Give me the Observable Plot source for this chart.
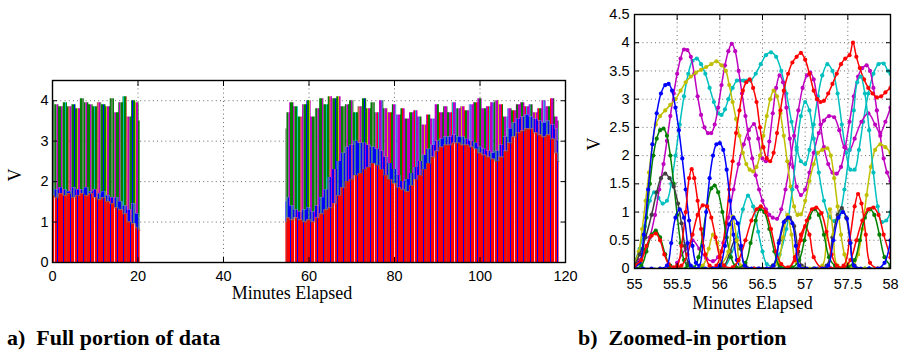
<!DOCTYPE html>
<html><head><meta charset="utf-8">
<script src="https://cdn.jsdelivr.net/npm/d3@7"></script>
<script src="https://cdn.jsdelivr.net/npm/@observablehq/plot@0.6"></script>
<style>
body{margin:0;background:#fff;}
#wrap{position:relative;width:903px;height:354px;overflow:hidden;background:#fff;}
#pa{position:absolute;left:0;top:0;}
#pb{position:absolute;left:580px;top:0;}
.cap{position:absolute;font-family:"Liberation Serif","Times New Roman",serif;font-weight:bold;font-size:22px;top:325px;white-space:nowrap;color:#000;}
</style></head>
<body><div id="wrap"><div id="pa"></div><div id="pb"></div>
<div class="cap" style="left:7px">a)&nbsp; Full portion of data</div>
<div class="cap" style="left:578px">b)&nbsp; Zoomed-in portion</div></div>
<script>
// ---------- Panel a data (envelopes) ----------
const leftMinutes = [0,1,2,3,4,5,6,7,8,9,10,11,12,13,14,15,16,17,18,19,20,20.5];
const leftTop  = [4.0,3.9,3.85,3.95,3.85,3.9,3.8,4.05,3.95,3.9,3.85,3.95,3.9,3.85,4.05,3.7,3.95,4.1,3.6,4.0,3.95,3.5];
const leftBlue = [1.85,1.8,1.85,1.8,1.75,1.85,1.8,1.8,1.85,1.75,1.8,1.7,1.75,1.65,1.6,1.6,1.5,1.4,1.3,1.45,1.2,1.1];
const leftRed  = [1.65,1.6,1.7,1.65,1.7,1.6,1.65,1.7,1.65,1.7,1.6,1.55,1.6,1.5,1.45,1.35,1.3,1.2,1.0,0.95,0.85,0.8];

const rightMinutes = [54.6,55,56,57,58,59,60,61,62,63,64,65,66,67,68,69,70,71,72,73,74,75,76,77,78,79,80,81,82,83,84,85,86,87,88,89,90,91,92,93,94,95,96,97,98,99,100,101,102,103,104,105,106,107,108,109,110,111,112,113,114,115,116,117,118,118.5];
const rightTop = [3.3,3.7,3.95,3.85,3.6,3.9,4.0,3.6,3.8,4.05,3.9,4.1,4.05,4.1,3.85,3.9,4.0,3.7,3.85,4.05,3.8,3.95,3.7,4.0,3.8,3.7,3.9,3.65,3.8,3.55,3.7,3.75,3.6,3.4,3.65,3.55,3.9,3.7,3.85,3.7,3.95,3.8,3.85,3.75,3.9,3.95,4.05,3.8,3.85,3.95,4.0,3.9,3.6,3.8,3.75,3.9,3.95,3.85,3.9,3.7,3.8,4.0,3.85,4.05,3.6,3.5];
const rightBlue = [1.5,1.6,1.4,1.3,1.25,1.3,1.35,1.25,1.4,1.6,1.8,2.1,2.3,2.5,2.7,2.85,2.9,3.0,2.95,2.95,2.9,2.85,2.8,2.75,2.6,2.45,2.3,2.15,2.0,2.05,2.2,2.35,2.5,2.65,2.8,2.9,3.0,3.05,3.1,3.1,3.15,3.1,3.1,3.05,3.0,2.95,2.85,2.8,2.75,2.7,2.75,2.9,3.1,3.3,3.45,3.55,3.6,3.65,3.6,3.55,3.5,3.45,3.5,3.4,3.3,3.0];
const rightRed = [1.0,1.1,1.05,1.1,1.05,1.0,1.05,1.0,1.1,1.2,1.3,1.35,1.45,1.65,1.85,2.0,2.05,2.15,2.2,2.3,2.35,2.45,2.4,2.3,2.15,2.05,1.95,1.85,1.8,1.75,1.9,2.05,2.15,2.3,2.45,2.6,2.75,2.85,2.9,2.9,2.95,2.95,2.9,2.9,2.85,2.8,2.7,2.65,2.6,2.55,2.5,2.6,2.75,2.95,3.1,3.2,3.25,3.3,3.3,3.2,3.15,3.1,3.15,3.05,2.7,2.5];

const fullTicksX = [0,20,40,60,80,100,120];
const fullTicksY = [0,1,2,3,4];

// ---------- Panel b data ----------
const bBlueTall = [[55.0,0.02],[55.06,0.1],[55.11,0.6],[55.16,1.4],[55.21,2.2],[55.26,2.75],[55.31,3.1],[55.36,3.25],[55.4,3.27],[55.44,3.15],[55.48,2.85],[55.52,2.45],[55.56,1.95],[55.6,1.4],[55.64,0.85],[55.68,0.4],[55.72,0.1],[55.76,0.05],[55.8,0.4],[55.84,1.0],[55.88,1.6],[55.92,2.0],[55.96,2.2],[56.0,2.22],[56.04,2.1],[56.08,1.75],[56.12,1.2],[56.16,0.6],[56.2,0.15],[56.25,0.02],[56.4,0],[56.55,0],[56.7,0],[56.85,0],[57.0,0],[57.15,0],[57.3,0],[57.45,0],[57.6,0],[57.75,0],[57.9,0],[58.0,0]];
const bBlueSmall = [[55.0,0],[55.1,0],[55.2,0],[55.3,0],[55.38,0.05],[55.43,0.45],[55.48,0.9],[55.53,1.05],[55.58,0.9],[55.62,0.45],[55.66,0.05],[55.75,0],[55.83,0],[55.92,0],[56.0,0.05],[56.06,0.4],[56.11,0.78],[56.16,0.9],[56.21,0.8],[56.25,0.4],[56.29,0.05],[56.37,0],[56.46,0],[56.55,0],[56.63,0.05],[56.69,0.45],[56.75,0.82],[56.8,0.9],[56.85,0.8],[56.89,0.4],[56.93,0.05],[57.02,0],[57.12,0],[57.2,0],[57.27,0.05],[57.33,0.5],[57.39,0.9],[57.44,1.0],[57.49,0.88],[57.53,0.45],[57.57,0.05],[57.65,0],[57.75,0],[57.85,0],[57.93,0.1],[58.0,0.5]];
const bGray = [[55.0,0.05],[55.06,0.25],[55.13,0.55],[55.2,0.95],[55.26,1.35],[55.31,1.6],[55.36,1.68],[55.41,1.6],[55.46,1.45],[55.51,1.15],[55.55,0.8],[55.59,0.4],[55.63,0.1],[55.7,0],[55.8,0],[55.9,0],[56.05,0.05],[56.12,0.3],[56.18,0.5],[56.24,0.35],[56.3,0.05],[56.45,0],[56.62,0.05],[56.7,0.5],[56.77,0.85],[56.82,0.9],[56.87,0.75],[56.92,0.3],[56.96,0.05],[57.1,0],[57.25,0.05],[57.32,0.55],[57.38,0.95],[57.43,1.07],[57.48,0.9],[57.53,0.45],[57.58,0.05],[57.75,0],[58.0,0]];
const bGreenTall = [[55.0,0.02],[55.06,0.1],[55.1,0.35],[55.14,0.9],[55.18,1.5],[55.22,2.0],[55.26,2.3],[55.3,2.45],[55.34,2.48],[55.38,2.35],[55.42,2.0],[55.46,1.5],[55.5,0.95],[55.54,0.45],[55.58,0.15],[55.62,0.05],[55.7,0.02],[55.75,0.2],[55.8,0.6],[55.85,1.1],[55.9,1.42],[55.94,1.47],[55.98,1.35],[56.03,1.0],[56.08,0.55],[56.13,0.2],[56.18,0.05],[56.3,0],[56.5,0],[56.7,0],[56.9,0],[57.1,0],[57.3,0],[57.5,0],[57.7,0],[57.9,0],[58.0,0]];
const bGreenSmall = [[55.0,0],[55.08,0.05],[55.14,0.3],[55.2,0.6],[55.25,0.67],[55.3,0.55],[55.36,0.25],[55.42,0.05],[55.6,0],[55.8,0],[56.0,0],[56.2,0],[56.3,0.1],[56.36,0.45],[56.42,0.85],[56.47,1.05],[56.52,1.0],[56.58,0.7],[56.64,0.3],[56.7,0.05],[56.85,0.02],[56.93,0.15],[56.99,0.5],[57.05,0.9],[57.11,1.05],[57.16,0.95],[57.22,0.6],[57.28,0.2],[57.35,0.05],[57.5,0.02],[57.58,0.15],[57.64,0.5],[57.7,0.9],[57.76,1.05],[57.81,0.95],[57.87,0.6],[57.93,0.2],[58.0,0.05]];
const bRedLow = [[55.0,0.05],[55.08,0.15],[55.14,0.4],[55.2,0.58],[55.25,0.62],[55.3,0.5],[55.35,0.25],[55.4,0.08],[55.46,0.02],[55.55,0.05],[55.62,0.25],[55.68,0.6],[55.74,0.95],[55.8,1.12],[55.85,1.1],[55.9,0.9],[55.95,0.55],[56.0,0.2],[56.05,0.05],[56.15,0.02],[56.22,0.15],[56.3,0.5],[56.37,0.85],[56.43,1.05],[56.48,1.1],[56.54,1.0],[56.6,0.7],[56.66,0.3],[56.72,0.08],[56.8,0.02],[56.88,0.15],[56.95,0.5],[57.02,0.85],[57.08,1.05],[57.13,1.08],[57.19,0.98],[57.25,0.65],[57.31,0.25],[57.37,0.05],[57.45,0.02],[57.53,0.15],[57.6,0.5],[57.67,0.85],[57.74,1.05],[57.8,1.08],[57.86,0.95],[57.92,0.6],[58.0,0.2]];
const bRedMid = [[55.4,0],[55.5,0.05],[55.55,0.4],[55.6,1.0],[55.64,1.6],[55.67,1.76],[55.7,1.6],[55.74,1.2],[55.78,0.7],[55.83,0.25],[55.88,0.05],[56.0,0],[56.2,0],[56.4,0],[56.6,0],[56.8,0],[56.88,0.2],[56.95,0.6],[57.0,0.75],[57.05,0.6],[57.1,0.2],[57.2,0],[57.3,0],[57.45,0.05],[57.52,0.5],[57.58,1.1],[57.62,1.32],[57.66,1.15],[57.71,0.6],[57.76,0.1],[57.85,0],[58.0,0]];
const bRedHigh = [[55.9,0],[55.96,0.05],[56.02,0.3],[56.07,0.8],[56.11,1.4],[56.15,1.9],[56.19,2.4],[56.23,2.8],[56.27,3.15],[56.31,3.3],[56.35,3.35],[56.39,3.2],[56.43,2.95],[56.47,2.5],[56.51,2.15],[56.55,1.95],[56.59,1.9],[56.63,2.05],[56.67,2.4],[56.71,2.8],[56.75,3.15],[56.8,3.45],[56.85,3.65],[56.9,3.75],[56.95,3.82],[57.0,3.7],[57.05,3.45],[57.1,3.15],[57.14,3.0],[57.18,2.95],[57.22,2.97],[57.27,3.1],[57.32,3.27],[57.37,3.45],[57.42,3.62],[57.47,3.72],[57.52,3.78],[57.56,4.0],[57.6,3.75],[57.64,3.55],[57.69,3.35],[57.74,3.2],[57.79,3.1],[57.84,3.03],[57.89,3.05],[57.94,3.12],[58.0,3.2]];
const bYellowHigh = [[55.0,0.1],[55.05,0.3],[55.09,0.7],[55.13,1.2],[55.17,1.7],[55.21,2.2],[55.25,2.55],[55.3,2.7],[55.36,2.8],[55.42,2.9],[55.48,3.0],[55.54,3.15],[55.6,3.3],[55.66,3.4],[55.72,3.47],[55.78,3.52],[55.84,3.57],[55.9,3.62],[55.96,3.67],[56.02,3.6],[56.07,3.5],[56.11,3.25],[56.15,2.95],[56.19,2.65],[56.23,2.35],[56.27,2.05],[56.31,1.85],[56.35,1.75],[56.39,1.72],[56.43,1.8],[56.47,2.0],[56.51,2.35],[56.55,2.7],[56.59,3.0],[56.63,3.15],[56.67,3.05],[56.71,2.75],[56.75,2.35],[56.79,1.9],[56.83,1.45],[56.87,1.1],[56.91,0.95],[56.95,0.96],[57.0,1.2],[57.05,1.55],[57.1,1.85],[57.15,2.05],[57.2,2.1],[57.26,2.13],[57.3,2.0],[57.34,1.6],[57.38,1.1],[57.42,0.6],[57.46,0.25],[57.5,0.08],[57.56,0.05],[57.62,0.25],[57.67,0.7],[57.72,1.3],[57.77,1.8],[57.82,2.1],[57.88,2.2],[57.94,2.15],[58.0,2.05]];
const bYellowLow = [[55.0,0],[55.3,0],[55.5,0],[55.7,0],[55.8,0.05],[55.87,0.35],[55.92,0.6],[55.97,0.45],[56.02,0.1],[56.1,0.3],[56.15,0.92],[56.2,0.5],[56.25,0.05],[56.4,0],[56.6,0],[56.68,0.1],[56.74,0.55],[56.79,0.95],[56.84,0.6],[56.9,0.1],[57.05,0],[57.2,0.05],[57.25,0.6],[57.29,1.05],[57.33,0.6],[57.38,0.05],[57.55,0],[57.7,0],[57.85,0],[58.0,0]];
const bMagentaA = [[55.0,0.08],[55.06,0.15],[55.12,0.3],[55.18,0.55],[55.24,0.95],[55.29,1.4],[55.34,1.85],[55.38,2.26],[55.42,2.7],[55.46,3.1],[55.5,3.45],[55.54,3.72],[55.58,3.88],[55.62,3.87],[55.66,3.75],[55.7,3.45],[55.74,3.05],[55.78,2.72],[55.82,2.5],[55.86,2.4],[55.9,2.4],[55.94,2.55],[55.98,2.85],[56.02,3.25],[56.06,3.6],[56.1,3.85],[56.14,3.98],[56.18,3.85],[56.22,3.5],[56.26,3.1],[56.3,2.7],[56.34,2.3],[56.38,1.95],[56.42,1.65],[56.46,1.4],[56.5,1.2],[56.54,1.05],[56.58,0.95],[56.62,0.9],[56.67,0.88],[56.72,1.05],[56.77,1.4],[56.82,1.85],[56.87,2.35],[56.92,2.8],[56.97,3.2],[57.02,3.42],[57.06,3.47],[57.1,3.35],[57.14,3.0],[57.18,2.55],[57.22,2.15],[57.27,1.85],[57.32,1.7],[57.37,1.68],[57.42,1.8],[57.47,2.15],[57.52,2.6],[57.57,3.05],[57.62,3.4],[57.67,3.55],[57.72,3.6],[57.76,3.5],[57.8,3.2],[57.84,2.8],[57.88,2.35],[57.92,1.95],[57.96,1.7],[58.0,1.55]];
const bMagentaB = [[55.5,0.1],[55.6,0.35],[55.68,0.5],[55.76,0.35],[55.84,0.18],[55.92,0.13],[55.98,0.2],[56.04,0.45],[56.1,0.9],[56.16,1.4],[56.22,1.85],[56.28,2.2],[56.34,2.45],[56.4,2.56],[56.45,2.3],[56.5,1.95],[56.54,1.9],[56.58,2.25],[56.62,2.75],[56.66,3.2],[56.7,3.42],[56.74,3.3],[56.78,2.85],[56.82,2.3],[56.86,1.8],[56.9,1.45],[56.95,1.3],[57.0,1.4],[57.05,1.7],[57.1,2.05],[57.16,2.4],[57.22,2.62],[57.28,2.7],[57.34,2.68],[57.4,2.45],[57.46,2.15],[57.52,2.1],[57.58,2.3],[57.66,2.6],[57.74,2.75],[57.82,2.55],[57.88,2.4],[57.94,2.6],[58.0,2.85]];
const bCyanA = [[55.0,0.12],[55.06,0.35],[55.12,0.75],[55.18,1.2],[55.23,1.35],[55.28,1.25],[55.33,1.15],[55.38,1.2],[55.43,1.5],[55.48,2.0],[55.53,2.55],[55.58,3.05],[55.63,3.45],[55.68,3.68],[55.73,3.72],[55.78,3.62],[55.83,3.45],[55.88,3.2],[55.93,2.95],[55.98,2.75],[56.02,2.72],[56.06,2.82],[56.1,3.0],[56.15,3.2],[56.2,3.33],[56.24,3.33],[56.28,3.33],[56.32,3.33],[56.36,3.33],[56.42,3.45],[56.48,3.62],[56.54,3.78],[56.6,3.83],[56.66,3.75],[56.72,3.5],[56.78,3.1],[56.84,2.6],[56.9,2.15],[56.95,1.9],[57.0,1.85],[57.05,2.1],[57.1,2.55],[57.15,3.05],[57.2,3.42],[57.26,3.62],[57.32,3.5],[57.38,3.1],[57.43,2.55],[57.48,2.05],[57.53,1.75],[57.58,1.75],[57.63,2.1],[57.68,2.6],[57.74,3.1],[57.8,3.45],[57.86,3.62],[57.92,3.63],[57.97,3.5],[58.0,3.45]];
const bCyanB = [[55.9,0],[56.05,0.02],[56.12,0.2],[56.2,0.55],[56.27,1.05],[56.33,1.29],[56.39,1.1],[56.45,0.65],[56.5,0.3],[56.55,0.08],[56.62,0.05],[56.7,0.25],[56.78,0.7],[56.85,1.4],[56.9,2.1],[56.95,2.7],[57.0,2.95],[57.05,2.8],[57.1,2.3],[57.16,1.7],[57.22,1.2],[57.28,0.92],[57.34,0.84],[57.4,0.95],[57.46,1.4],[57.52,2.1],[57.57,2.8],[57.61,3.3],[57.65,3.4],[57.7,3.1],[57.75,2.45],[57.8,1.7],[57.85,1.1],[57.9,0.82],[57.95,0.85],[58.0,1.0]];

const zoomTicksX = [55,55.5,56,56.5,57,57.5,58];
const zoomTicksY = [0,0.5,1,1.5,2,2.5,3,3.5,4,4.5];

// ---------- styling ----------
const C = {b:"#0000ff", g:"#008000", r:"#ff0000", c:"#00bfbf", m:"#bf00bf", y:"#bfbf00", k:"#404040"};
const tickFont = "'Liberation Sans', Arial, Helvetica, sans-serif";
const labelFont = "'Liberation Serif', 'Times New Roman', serif";
const fmt = d3.format("~g");

function gridMarks(ticksX, ticksY) {
  return [
    Plot.gridX(ticksX, {stroke:"#000", strokeOpacity:0.75, strokeDasharray:"1,3.2", strokeWidth:0.8}),
    Plot.gridY(ticksY, {stroke:"#000", strokeOpacity:0.75, strokeDasharray:"1,3.2", strokeWidth:0.8})
  ];
}
function axisMarks(ticksX, ticksY, padX, padY) {
  return [
    Plot.axisX(ticksX, {anchor:"bottom", tickSize:-5, tickPadding:padX+5, tickFormat:fmt, label:null, fontSize:14.5}),
    Plot.axisX(ticksX, {anchor:"top", tickSize:-5, tickFormat:()=>"", label:null}),
    Plot.axisY(ticksY, {anchor:"left", tickSize:-5, tickPadding:padY+5, tickFormat:fmt, label:null, fontSize:14.5}),
    Plot.axisY(ticksY, {anchor:"right", tickSize:-5, tickFormat:()=>"", label:null}),
    Plot.frame({stroke:"#000", strokeWidth:1.4})
  ];
}

// ---------- Panel a ----------
const leftData = leftMinutes.map((t,i)=>({t, top:leftTop[i], blue:leftBlue[i], red:leftRed[i]}));
const rightData = rightMinutes.map((t,i)=>({t, top:rightTop[i], blue:rightBlue[i], red:rightRed[i]}));
const rightEarly = rightData.filter(d => d.t <= 76);
const rightLate = rightData.filter(d => d.t >= 76);
const S_UPG = "#fe0101", S_UPM = "#fe0404", S_BL = "#fe0202", S_RD = "#fe0303";
const bandMarks = [];
for (const [d, up] of [[leftData, S_UPG], [rightEarly, S_UPG], [rightLate, S_UPM]]) {
  bandMarks.push(Plot.areaY(d, {x:"t", y1:"blue", y2:"top", curve:"step", fill:up}));
  bandMarks.push(Plot.areaY(d, {x:"t", y1:"red", y2:"blue", curve:"step", fill:S_BL}));
  bandMarks.push(Plot.areaY(d, {x:"t", y1:0, y2:"red", curve:"step", fill:S_RD}));
}
for (const d of [leftData, rightData]) {
  bandMarks.push(Plot.line(d, {x:"t", y:"red", curve:"step", stroke:"#6a6a40", strokeWidth:1.2, strokeOpacity:0.5}));
}
const plotA = Plot.plot({
  width:580, height:320, marginLeft:52, marginRight:15, marginTop:80, marginBottom:58,
  style:{fontFamily:tickFont, fontSize:"14.5px", color:"#000", background:"transparent"},
  x:{domain:[0,120]}, y:{domain:[0,4.5]},
  marks:[
    ...gridMarks(fullTicksX, fullTicksY),
    ...bandMarks,
    ...axisMarks(fullTicksX, fullTicksY, 8, 4),
    Plot.text(["Minutes Elapsed"], {text:d=>d, frameAnchor:"bottom", dx:-17, dy:36, fontFamily:labelFont, fontSize:18}),
    Plot.text(["V"], {text:d=>d, frameAnchor:"left", rotate:-90, dx:-37, dy:10, fontFamily:labelFont, fontSize:18})
  ]
});
document.getElementById("pa").appendChild(plotA);

// stripe patterns (style only)
function addPattern(svg, id, w, stripes) {
  const ns = "http://www.w3.org/2000/svg";
  let defs = svg.querySelector("defs");
  if (!defs) { defs = document.createElementNS(ns, "defs"); svg.insertBefore(defs, svg.firstChild); }
  const p = document.createElementNS(ns, "pattern");
  p.setAttribute("id", id); p.setAttribute("patternUnits", "userSpaceOnUse");
  p.setAttribute("width", w); p.setAttribute("height", 400);
  for (const [x, sw, col] of stripes) {
    const r = document.createElementNS(ns, "rect");
    r.setAttribute("x", x); r.setAttribute("y", 0); r.setAttribute("width", sw); r.setAttribute("height", 400);
    r.setAttribute("fill", col); p.appendChild(r);
  }
  defs.appendChild(p);
}
addPattern(plotA, "stUpG", 29, [[0,3,C.g],[3,1.5,C.m],[4.5,2.5,C.g],[7,1,C.c],[8,2.5,C.g],[10.5,1,C.r],[11.5,2,C.m],[13.5,2.5,C.g],[16,1,C.b],[17,2,C.g],[19,1,C.y],[20,2,C.m],[22,2.5,C.g],[24.5,1,C.k],[25.5,2,C.g],[27.5,1.5,C.m]]);
addPattern(plotA, "stUpM", 37, [[0,3,C.m],[3,2,C.g],[5,2,C.m],[7,1,C.r],[8,1,C.c],[9,2.5,C.m],[11.5,1,C.b],[12.5,2,C.g],[14.5,2.5,C.m],[17,1,C.y],[18,2,C.m],[20,1,C.r],[21,2,C.g],[23,2.5,C.m],[25.5,1,C.c],[26.5,1,C.b],[27.5,2.5,C.m],[30,2,C.g],[32,1,C.r],[33,2,C.m],[35,1,C.k],[36,1,C.g]]);
addPattern(plotA, "stBl", 17, [[0,2.5,C.b],[2.5,1,C.g],[3.5,2,C.b],[5.5,1,C.k],[6.5,1.5,C.b],[8,1,C.m],[9,2.5,C.b],[11.5,1,C.r],[12.5,2,C.b],[14.5,1,C.g],[15.5,1.5,C.b]]);
addPattern(plotA, "stRd", 20, [[0,3,C.r],[3,1,C.b],[4,2,C.r],[6,1,"#c02a2a"],[7,3,C.r],[10,1,C.b],[11,3,C.r],[14,0.8,"#ffffff"],[14.8,2.2,C.r],[17,1,C.b],[18,2,C.r]]);
const mapFill = {[S_UPG]:"url(#stUpG)", [S_UPM]:"url(#stUpM)", [S_BL]:"url(#stBl)", [S_RD]:"url(#stRd)"};
plotA.querySelectorAll("[fill]").forEach(el => {
  const f = (el.getAttribute("fill")||"").toLowerCase();
  if (mapFill[f]) el.setAttribute("fill", mapFill[f]);
});

// ---------- Panel b ----------
const zoomSeries = [
  ["c", bCyanA], ["m", bMagentaA], ["m", bMagentaB], ["y", bYellowHigh], ["r", bRedHigh],
  ["c", bCyanB], ["g", bGreenTall], ["k", bGray], ["b", bBlueTall], ["y", bYellowLow],
  ["r", bRedMid], ["g", bGreenSmall], ["r", bRedLow], ["b", bBlueSmall]
];
const lineMarks = [];
for (const [c, pts] of zoomSeries) {
  lineMarks.push(Plot.line(pts, {x:d=>d[0], y:d=>d[1], stroke:C[c], strokeWidth:1.5, curve:"catmull-rom", clip:true}));
  lineMarks.push(Plot.dot(pts, {x:d=>d[0], y:d=>d[1], r:2.1, fill:C[c], stroke:"none", clip:true}));
}
const plotB = Plot.plot({
  width:323, height:320, marginLeft:54, marginRight:13, marginTop:14, marginBottom:52,
  style:{fontFamily:tickFont, fontSize:"14.5px", color:"#000", background:"transparent"},
  x:{domain:[55,58]}, y:{domain:[0,4.5]},
  marks:[
    ...gridMarks(zoomTicksX, zoomTicksY),
    ...lineMarks,
    ...axisMarks(zoomTicksX, zoomTicksY, 10, 5),
    Plot.text(["Minutes Elapsed"], {text:d=>d, frameAnchor:"bottom", dx:-10, dy:40, fontFamily:labelFont, fontSize:18}),
    Plot.text(["V"], {text:d=>d, frameAnchor:"left", rotate:-90, dx:-40, dy:9, fontFamily:labelFont, fontSize:18})
  ]
});
document.getElementById("pb").appendChild(plotB);
</script></body></html>
